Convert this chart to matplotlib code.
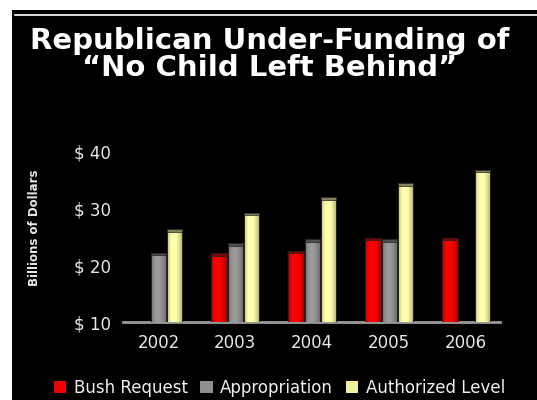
import numpy as np
import matplotlib.pyplot as plt
from matplotlib.colors import to_rgb
from matplotlib.patches import Rectangle
from matplotlib.lines import Line2D

# NCLB funding, billions of dollars
years = ['2002', '2003', '2004', '2005', '2006']
bush_request = [np.nan, 22.1, 22.6, 24.9, 24.9]
appropriation = [22.2, 23.9, 24.6, 24.6, np.nan]
authorized = [26.4, 29.3, 32.0, 34.5, 36.9]
series_names = ['Bush Request', 'Appropriation', 'Authorized Level']
series_colors = ['#ee0000', '#8e8e8e', '#f2f0a0']
y_ticks = [10, 20, 30, 40]

fig = plt.figure(figsize=(5.37, 4.0), dpi=100)
fig.patch.set_facecolor('white')

# black panel with thin white rule along the top
fig.patches.append(Rectangle((12 / 537, 0), 1, 390 / 400, transform=fig.transFigure,
                             facecolor='black', edgecolor='none', zorder=-10))
fig.lines.append(Line2D([15 / 537, 1], [0.9635, 0.9635], transform=fig.transFigure,
                        color='white', linewidth=1.2))

fig.text(0.503, 0.864, 'Republican Under-Funding of\n\u201cNo Child Left Behind\u201d',
         color='white', fontsize=21, fontweight='bold', ha='center', va='center',
         linespacing=0.92, family='DejaVu Sans')

ax = fig.add_axes([123 / 537, 0.195, 377 / 537, 0.425])
ax.set_facecolor('black')

x = np.arange(len(years))
width = 0.2
step = 0.212


def shade_bar(patch, color):
    # cylinder-like horizontal shading clipped to the bar
    x0, y0 = patch.get_x(), patch.get_y()
    w, h = patch.get_width(), patch.get_height()
    t = np.linspace(0, 1, 40)
    f = 0.72 + 0.38 * np.sin(np.pi * t ** 0.8)
    img = np.clip(f[None, :, None] * np.array(to_rgb(color))[None, None, :], 0, 1)
    img = np.repeat(img, 2, axis=0)
    im = ax.imshow(img, extent=[x0, x0 + w, y0, y0 + h], aspect='auto',
                   interpolation='bilinear', zorder=2)
    im.set_clip_path(patch)


handles = []
for i, (vals, color) in enumerate(zip([bush_request, appropriation, authorized], series_colors)):
    vals = np.array(vals, dtype=float)
    pos = x + (i - 1) * step
    bars = ax.bar(pos, vals - 10, width, bottom=10, color=color, edgecolor='#202020',
                  linewidth=0.7, zorder=3)
    for b, v in zip(bars, vals):
        if np.isnan(v):
            continue
        b.set_facecolor('none')
        shade_bar(b, color)
    # darker cap on top of each bar
    ax.bar(pos, 0.45, width, bottom=vals - 0.45, color=np.array(to_rgb(color)) * 0.55,
           edgecolor='#202020', linewidth=0.5, zorder=4)
    handles.append(Rectangle((0, 0), 1, 1, facecolor=color, edgecolor='none'))

ax.set_xlim(-0.46, 4.44)
ax.set_ylim(10, 40)
ax.set_xticks(x)
ax.set_xticklabels(years)
ax.set_yticks(y_ticks)
ax.set_yticklabels(['$ %d' % v for v in y_ticks])
ax.tick_params(length=0, colors='#e8e8e8', labelsize=12)
ax.tick_params(axis='x', pad=9)
ax.tick_params(axis='y', pad=9)
for side in ['top', 'right', 'left']:
    ax.spines[side].set_visible(False)
ax.spines['bottom'].set_color('#9a9a9a')
ax.spines['bottom'].set_linewidth(2)
ax.spines['bottom'].set_zorder(1)

fig.text(35 / 537, 1 - 228 / 400, 'Billions of Dollars', color='#e8e8e8', fontsize=8.5,
         fontweight='bold', rotation=90, ha='center', va='center')

leg = fig.legend(handles, series_names, loc='center', bbox_to_anchor=(0.52, 0.03), ncol=3,
                 frameon=False, fontsize=12, handlelength=0.75, handleheight=0.75,
                 handletextpad=0.45, columnspacing=0.75, labelcolor='#f0f0f0')

fig.savefig('out.png', dpi=100, facecolor=fig.get_facecolor())
